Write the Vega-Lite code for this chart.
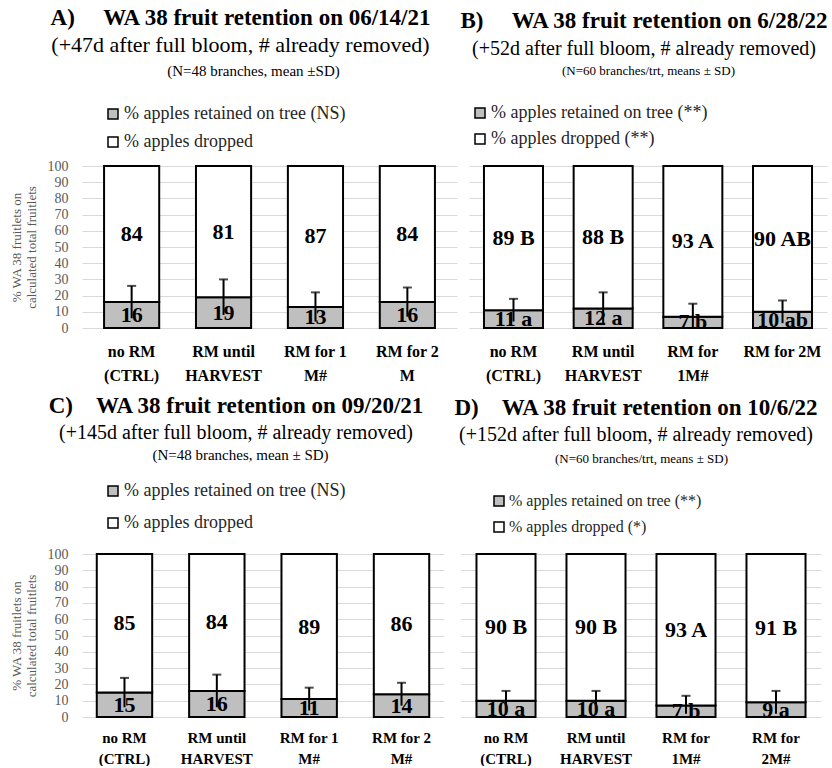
{
  "$schema": "https://vega.github.io/schema/vega-lite/v6.json",
  "background": "white",
  "padding": {"left": 10, "top": 7, "right": 0, "bottom": 0},
  "config": {
    "font": "Liberation Serif",
    "view": {"stroke": null},
    "axis": {"labelFont": "Liberation Serif", "titleFont": "Liberation Serif"},
    "axisY": {"gridColor": "#d9d9d9", "gridWidth": 1, "domain": false, "ticks": false, "labelFontSize": 14, "labelColor": "#595959", "labelPadding": 14, "titleFontSize": 13, "titleFontWeight": "normal", "titleColor": "#595959"},
    "axisX": {"domain": false, "ticks": false, "grid": false, "labelAngle": 0, "labelFontSize": 16, "labelFontWeight": "bold", "labelColor": "black", "labelPadding": 15, "labelLineHeight": 24},
    "title": {"font": "Liberation Serif", "fontSize": 23, "fontWeight": "bold", "color": "black", "subtitleFont": "Liberation Serif", "subtitleFontSize": 22, "subtitleColor": "black", "subtitlePadding": 5, "anchor": "middle"},
    "legend": {"labelFont": "Liberation Serif", "labelColor": "#262626", "labelLimit": 400, "labelOffset": 2, "padding": 0, "symbolType": "square", "symbolSize": 100, "symbolStrokeColor": "black", "symbolStrokeWidth": 1.5, "direction": "vertical", "orient": "none"}
  },
  "resolve": {"scale": {"color": "independent"}, "legend": {"color": "independent"}},
  "spacing": 12,
  "vconcat": [
    {
      "hconcat": [
        {
          "width": 375, "height": 162,
          "title": {"text": "A)\u2003 WA 38 fruit retention on 06/14/21", "subtitle": "(+47d after full bloom, # already removed)", "dx": -29, "offset": 7},
          "data": {"values": [
            {"trt": "no RM|(CTRL)", "series": "% apples retained on tree (NS)", "ord": 1, "pct": 16, "label": "16", "err_lo": 6, "err_hi": 26},
            {"trt": "no RM|(CTRL)", "series": "% apples dropped", "ord": 2, "pct": 84, "label": "84"},
            {"trt": "RM until|HARVEST", "series": "% apples retained on tree (NS)", "ord": 1, "pct": 19, "label": "19", "err_lo": 8, "err_hi": 30},
            {"trt": "RM until|HARVEST", "series": "% apples dropped", "ord": 2, "pct": 81, "label": "81"},
            {"trt": "RM  for 1|M#", "series": "% apples retained on tree (NS)", "ord": 1, "pct": 13, "label": "13", "err_lo": 4, "err_hi": 22},
            {"trt": "RM  for 1|M#", "series": "% apples dropped", "ord": 2, "pct": 87, "label": "87"},
            {"trt": "RM for 2|M", "series": "% apples retained on tree (NS)", "ord": 1, "pct": 16, "label": "16", "err_lo": 7, "err_hi": 25},
            {"trt": "RM for 2|M", "series": "% apples dropped", "ord": 2, "pct": 84, "label": "84"}
          ]},
          "transform": [{"stack": "pct", "groupby": ["trt"], "sort": [{"field": "ord", "order": "ascending"}], "as": ["v0", "v1"]}],
          "resolve": {"axis": {"x": "independent", "y": "independent"}},
          "layer": [
            {
              "mark": {"type": "bar", "stroke": "black", "strokeWidth": 2},
              "encoding": {
                "x": {"field": "trt", "type": "nominal", "title": null, "sort": ["no RM|(CTRL)", "RM until|HARVEST", "RM  for 1|M#", "RM for 2|M"], "scale": {"paddingInner": 0.4, "paddingOuter": 0.24}, "axis": {"orient": "bottom", "labelExpr": "split(datum.label, '|')"}},
                "y": {"field": "v1", "type": "quantitative", "scale": {"domain": [0, 100], "nice": false}, "axis": {"orient": "left", "grid": true, "values": [0, 10, 20, 30, 40, 50, 60, 70, 80, 90, 100], "title": ["% WA 38 fruitlets on", "calculated total fruitlets"], "titlePadding": 9}},
                "y2": {"field": "v0"},
                "color": {"field": "series", "type": "nominal", "scale": {"domain": ["% apples retained on tree (NS)", "% apples dropped"], "range": ["#bfbfbf", "#ffffff"]}, "legend": {"title": null, "legendX": 22, "legendY": -61, "labelFontSize": 18, "rowPadding": 10}}
              }
            },
            {
              "transform": [{"fold": ["v0", "v1"], "as": ["edge", "ev"]}, {"aggregate": [{"op": "mean", "field": "ev", "as": "mid"}], "groupby": ["trt", "ord", "label"]}],
              "mark": {"type": "text", "fontSize": 22, "fontWeight": "bold", "color": "black", "baseline": "middle"},
              "encoding": {
                "x": {"field": "trt", "type": "nominal", "sort": ["no RM|(CTRL)", "RM until|HARVEST", "RM  for 1|M#", "RM for 2|M"], "axis": null},
                "y": {"field": "mid", "type": "quantitative", "axis": null},
                "text": {"field": "label"}
              }
            },
            {
              "transform": [{"filter": {"field": "ord", "equal": 1}}],
              "mark": {"type": "rule", "color": "black", "strokeWidth": 2},
              "encoding": {
                "x": {"field": "trt", "type": "nominal", "sort": ["no RM|(CTRL)", "RM until|HARVEST", "RM  for 1|M#", "RM for 2|M"], "axis": null},
                "y": {"field": "err_lo", "type": "quantitative", "axis": null},
                "y2": {"field": "err_hi"}
              }
            },
            {
              "transform": [{"filter": {"field": "ord", "equal": 1}}],
              "mark": {"type": "tick", "color": "black", "thickness": 2, "size": 9, "orient": "horizontal"},
              "encoding": {
                "x": {"field": "trt", "type": "nominal", "sort": ["no RM|(CTRL)", "RM until|HARVEST", "RM  for 1|M#", "RM for 2|M"], "axis": {"orient": "top", "title": "(N=48 branches, mean ±SD)", "labels": false, "titleFontSize": 15, "titleFontWeight": "normal", "titleColor": "black", "titlePadding": 88, "titleX": 171}},
                "y": {"field": "err_hi", "type": "quantitative", "axis": null}
              }
            }
          ]
        },
        {
          "width": 358, "height": 162,
          "title": {"text": "B)\u2003 WA 38 fruit retention on 6/28/22", "subtitle": "(+52d after full bloom, # already removed)", "subtitleFontSize": 20, "subtitlePadding": 6, "dx": -4, "offset": 5},
          "data": {"values": [
            {"trt": "no RM|(CTRL)", "series": "% apples retained on tree (**)", "ord": 1, "pct": 11, "label": "11 a", "err_lo": 4, "err_hi": 18},
            {"trt": "no RM|(CTRL)", "series": "% apples dropped (**)", "ord": 2, "pct": 89, "label": "89 B"},
            {"trt": "RM until|HARVEST", "series": "% apples retained on tree (**)", "ord": 1, "pct": 12, "label": "12 a", "err_lo": 2, "err_hi": 22},
            {"trt": "RM until|HARVEST", "series": "% apples dropped (**)", "ord": 2, "pct": 88, "label": "88 B"},
            {"trt": "RM for|1M#", "series": "% apples retained on tree (**)", "ord": 1, "pct": 7, "label": "7 b", "err_lo": 0, "err_hi": 15},
            {"trt": "RM for|1M#", "series": "% apples dropped (**)", "ord": 2, "pct": 93, "label": "93 A"},
            {"trt": "RM for 2M", "series": "% apples retained on tree (**)", "ord": 1, "pct": 10, "label": "10 ab", "err_lo": 3, "err_hi": 17},
            {"trt": "RM for 2M", "series": "% apples dropped (**)", "ord": 2, "pct": 90, "label": "90 AB"}
          ]},
          "transform": [{"stack": "pct", "groupby": ["trt"], "sort": [{"field": "ord", "order": "ascending"}], "as": ["v0", "v1"]}],
          "resolve": {"axis": {"x": "independent", "y": "independent"}},
          "layer": [
            {
              "mark": {"type": "bar", "stroke": "black", "strokeWidth": 2},
              "encoding": {
                "x": {"field": "trt", "type": "nominal", "title": null, "sort": ["no RM|(CTRL)", "RM until|HARVEST", "RM for|1M#", "RM for 2M"], "scale": {"paddingInner": 0.342, "paddingOuter": 0.167}, "axis": {"orient": "bottom", "labelExpr": "split(datum.label, '|')"}},
                "y": {"field": "v1", "type": "quantitative", "scale": {"domain": [0, 100], "nice": false}, "axis": {"orient": "left", "grid": true, "values": [0, 10, 20, 30, 40, 50, 60, 70, 80, 90, 100], "labels": false, "title": null}},
                "y2": {"field": "v0"},
                "color": {"field": "series", "type": "nominal", "scale": {"domain": ["% apples retained on tree (**)", "% apples dropped (**)"], "range": ["#bfbfbf", "#ffffff"]}, "legend": {"title": null, "legendX": 2, "legendY": -62, "labelFontSize": 18, "rowPadding": 8}}
              }
            },
            {
              "transform": [{"fold": ["v0", "v1"], "as": ["edge", "ev"]}, {"aggregate": [{"op": "mean", "field": "ev", "as": "mid"}], "groupby": ["trt", "ord", "label"]}],
              "mark": {"type": "text", "fontSize": 22, "fontWeight": "bold", "color": "black", "baseline": "middle"},
              "encoding": {
                "x": {"field": "trt", "type": "nominal", "sort": ["no RM|(CTRL)", "RM until|HARVEST", "RM for|1M#", "RM for 2M"], "axis": null},
                "y": {"field": "mid", "type": "quantitative", "axis": null},
                "text": {"field": "label"}
              }
            },
            {
              "transform": [{"filter": {"field": "ord", "equal": 1}}],
              "mark": {"type": "rule", "color": "black", "strokeWidth": 2},
              "encoding": {
                "x": {"field": "trt", "type": "nominal", "sort": ["no RM|(CTRL)", "RM until|HARVEST", "RM for|1M#", "RM for 2M"], "axis": null},
                "y": {"field": "err_lo", "type": "quantitative", "axis": null},
                "y2": {"field": "err_hi"}
              }
            },
            {
              "transform": [{"filter": {"field": "ord", "equal": 1}}],
              "mark": {"type": "tick", "color": "black", "thickness": 2, "size": 9, "orient": "horizontal"},
              "encoding": {
                "x": {"field": "trt", "type": "nominal", "sort": ["no RM|(CTRL)", "RM until|HARVEST", "RM for|1M#", "RM for 2M"], "axis": {"orient": "top", "title": "(N=60 branches/trt, means ± SD)", "labels": false, "titleFontSize": 13, "titleFontWeight": "normal", "titleColor": "black", "titlePadding": 89}},
                "y": {"field": "err_hi", "type": "quantitative", "axis": null}
              }
            }
          ]
        }
      ],
      "bounds": "flush",
      "spacing": 12,
      "resolve": {"scale": {"color": "independent"}, "legend": {"color": "independent"}}
    },
    {
      "hconcat": [
        {
          "width": 362, "height": 163,
          "title": {"text": "C)\u2003WA 38 fruit retention on 09/20/21", "subtitle": "(+145d after full bloom, # already removed)", "subtitleFontSize": 20, "dx": -27, "offset": 4},
          "data": {"values": [
            {"trt": "no RM|(CTRL)", "series": "% apples retained on tree (NS)", "ord": 1, "pct": 15, "label": "15", "err_lo": 6, "err_hi": 24},
            {"trt": "no RM|(CTRL)", "series": "% apples dropped", "ord": 2, "pct": 85, "label": "85"},
            {"trt": "RM until|HARVEST", "series": "% apples retained on tree (NS)", "ord": 1, "pct": 16, "label": "16", "err_lo": 6, "err_hi": 26},
            {"trt": "RM until|HARVEST", "series": "% apples dropped", "ord": 2, "pct": 84, "label": "84"},
            {"trt": "RM  for 1|M#", "series": "% apples retained on tree (NS)", "ord": 1, "pct": 11, "label": "11", "err_lo": 4, "err_hi": 18},
            {"trt": "RM  for 1|M#", "series": "% apples dropped", "ord": 2, "pct": 89, "label": "89"},
            {"trt": "RM for 2|M#", "series": "% apples retained on tree (NS)", "ord": 1, "pct": 14, "label": "14", "err_lo": 7, "err_hi": 21},
            {"trt": "RM for 2|M#", "series": "% apples dropped", "ord": 2, "pct": 86, "label": "86"}
          ]},
          "transform": [{"stack": "pct", "groupby": ["trt"], "sort": [{"field": "ord", "order": "ascending"}], "as": ["v0", "v1"]}],
          "resolve": {"axis": {"x": "independent", "y": "independent"}},
          "layer": [
            {
              "mark": {"type": "bar", "stroke": "black", "strokeWidth": 2},
              "encoding": {
                "x": {"field": "trt", "type": "nominal", "title": null, "sort": ["no RM|(CTRL)", "RM until|HARVEST", "RM  for 1|M#", "RM for 2|M#"], "scale": {"paddingInner": 0.4, "paddingOuter": 0.16}, "axis": {"orient": "bottom", "labelExpr": "split(datum.label, '|')", "labelFontSize": 15, "labelLineHeight": 21, "labelPadding": 13}},
                "y": {"field": "v1", "type": "quantitative", "scale": {"domain": [0, 100], "nice": false}, "axis": {"orient": "left", "grid": true, "values": [0, 10, 20, 30, 40, 50, 60, 70, 80, 90, 100], "title": ["% WA 38 fruitlets on", "calculated total fruitlets"], "titlePadding": 9}},
                "y2": {"field": "v0"},
                "color": {"field": "series", "type": "nominal", "scale": {"domain": ["% apples retained on tree (NS)", "% apples dropped"], "range": ["#bfbfbf", "#ffffff"]}, "legend": {"title": null, "legendX": 22, "legendY": -72, "labelFontSize": 18, "rowPadding": 14}}
              }
            },
            {
              "transform": [{"fold": ["v0", "v1"], "as": ["edge", "ev"]}, {"aggregate": [{"op": "mean", "field": "ev", "as": "mid"}], "groupby": ["trt", "ord", "label"]}],
              "mark": {"type": "text", "fontSize": 22, "fontWeight": "bold", "color": "black", "baseline": "middle"},
              "encoding": {
                "x": {"field": "trt", "type": "nominal", "sort": ["no RM|(CTRL)", "RM until|HARVEST", "RM  for 1|M#", "RM for 2|M#"], "axis": null},
                "y": {"field": "mid", "type": "quantitative", "axis": null},
                "text": {"field": "label"}
              }
            },
            {
              "transform": [{"filter": {"field": "ord", "equal": 1}}],
              "mark": {"type": "rule", "color": "black", "strokeWidth": 2},
              "encoding": {
                "x": {"field": "trt", "type": "nominal", "sort": ["no RM|(CTRL)", "RM until|HARVEST", "RM  for 1|M#", "RM for 2|M#"], "axis": null},
                "y": {"field": "err_lo", "type": "quantitative", "axis": null},
                "y2": {"field": "err_hi"}
              }
            },
            {
              "transform": [{"filter": {"field": "ord", "equal": 1}}],
              "mark": {"type": "tick", "color": "black", "thickness": 2, "size": 9, "orient": "horizontal"},
              "encoding": {
                "x": {"field": "trt", "type": "nominal", "sort": ["no RM|(CTRL)", "RM until|HARVEST", "RM  for 1|M#", "RM for 2|M#"], "axis": {"orient": "top", "title": "(N=48 branches, mean ± SD)", "labels": false, "titleFontSize": 15, "titleFontWeight": "normal", "titleColor": "black", "titlePadding": 92, "titleX": 158}},
                "y": {"field": "err_hi", "type": "quantitative", "axis": null}
              }
            }
          ]
        },
        {
          "width": 360, "height": 163,
          "title": {"text": "D)\u2003WA 38 fruit retention on 10/6/22", "subtitle": "(+152d after full bloom, # already removed)", "subtitleFontSize": 20, "dx": -5, "offset": 7},
          "data": {"values": [
            {"trt": "no RM|(CTRL)", "series": "% apples retained on tree (**)", "ord": 1, "pct": 10, "label": "10 a", "err_lo": 4, "err_hi": 16},
            {"trt": "no RM|(CTRL)", "series": "% apples dropped (*)", "ord": 2, "pct": 90, "label": "90 B"},
            {"trt": "RM until|HARVEST", "series": "% apples retained on tree (**)", "ord": 1, "pct": 10, "label": "10 a", "err_lo": 4, "err_hi": 16},
            {"trt": "RM until|HARVEST", "series": "% apples dropped (*)", "ord": 2, "pct": 90, "label": "90 B"},
            {"trt": "RM for|1M#", "series": "% apples retained on tree (**)", "ord": 1, "pct": 7, "label": "7 b", "err_lo": 2, "err_hi": 13},
            {"trt": "RM for|1M#", "series": "% apples dropped (*)", "ord": 2, "pct": 93, "label": "93 A"},
            {"trt": "RM for|2M#", "series": "% apples retained on tree (**)", "ord": 1, "pct": 9, "label": "9 a", "err_lo": 2, "err_hi": 16},
            {"trt": "RM for|2M#", "series": "% apples dropped (*)", "ord": 2, "pct": 91, "label": "91 B"}
          ]},
          "transform": [{"stack": "pct", "groupby": ["trt"], "sort": [{"field": "ord", "order": "ascending"}], "as": ["v0", "v1"]}],
          "resolve": {"axis": {"x": "independent", "y": "independent"}},
          "layer": [
            {
              "mark": {"type": "bar", "stroke": "black", "strokeWidth": 2},
              "encoding": {
                "x": {"field": "trt", "type": "nominal", "title": null, "sort": ["no RM|(CTRL)", "RM until|HARVEST", "RM for|1M#", "RM for|2M#"], "scale": {"paddingInner": 0.344, "paddingOuter": 0.172}, "axis": {"orient": "bottom", "labelExpr": "split(datum.label, '|')", "labelFontSize": 15, "labelLineHeight": 21, "labelPadding": 13}},
                "y": {"field": "v1", "type": "quantitative", "scale": {"domain": [0, 100], "nice": false}, "axis": {"orient": "left", "grid": true, "values": [0, 10, 20, 30, 40, 50, 60, 70, 80, 90, 100], "labels": false, "title": null}},
                "y2": {"field": "v0"},
                "color": {"field": "series", "type": "nominal", "scale": {"domain": ["% apples retained on tree (**)", "% apples dropped (*)"], "range": ["#bfbfbf", "#ffffff"]}, "legend": {"title": null, "legendX": 30, "legendY": -61, "labelFontSize": 16, "rowPadding": 10}}
              }
            },
            {
              "transform": [{"fold": ["v0", "v1"], "as": ["edge", "ev"]}, {"aggregate": [{"op": "mean", "field": "ev", "as": "mid"}], "groupby": ["trt", "ord", "label"]}],
              "mark": {"type": "text", "fontSize": 22, "fontWeight": "bold", "color": "black", "baseline": "middle"},
              "encoding": {
                "x": {"field": "trt", "type": "nominal", "sort": ["no RM|(CTRL)", "RM until|HARVEST", "RM for|1M#", "RM for|2M#"], "axis": null},
                "y": {"field": "mid", "type": "quantitative", "axis": null},
                "text": {"field": "label"}
              }
            },
            {
              "transform": [{"filter": {"field": "ord", "equal": 1}}],
              "mark": {"type": "rule", "color": "black", "strokeWidth": 2},
              "encoding": {
                "x": {"field": "trt", "type": "nominal", "sort": ["no RM|(CTRL)", "RM until|HARVEST", "RM for|1M#", "RM for|2M#"], "axis": null},
                "y": {"field": "err_lo", "type": "quantitative", "axis": null},
                "y2": {"field": "err_hi"}
              }
            },
            {
              "transform": [{"filter": {"field": "ord", "equal": 1}}],
              "mark": {"type": "tick", "color": "black", "thickness": 2, "size": 9, "orient": "horizontal"},
              "encoding": {
                "x": {"field": "trt", "type": "nominal", "sort": ["no RM|(CTRL)", "RM until|HARVEST", "RM for|1M#", "RM for|2M#"], "axis": {"orient": "top", "title": "(N=60 branches/trt, means ± SD)", "labels": false, "titleFontSize": 13, "titleFontWeight": "normal", "titleColor": "black", "titlePadding": 89}},
                "y": {"field": "err_hi", "type": "quantitative", "axis": null}
              }
            }
          ]
        }
      ],
      "bounds": "flush",
      "spacing": 17,
      "resolve": {"scale": {"color": "independent"}, "legend": {"color": "independent"}}
    }
  ]
}
